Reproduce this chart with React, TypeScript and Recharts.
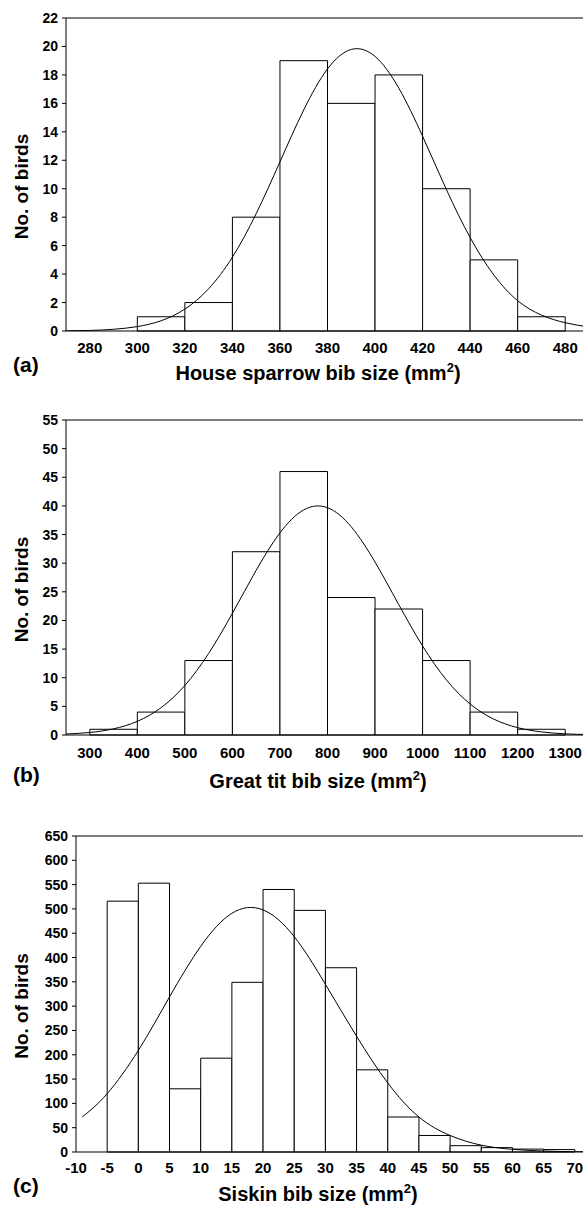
import React from 'react';
import { ComposedChart, XAxis, YAxis, Line, ReferenceArea } from 'recharts';

const FONT = "'Liberation Sans', Arial, Helvetica, sans-serif";

// ---------- Panel (a): House sparrow ----------
const aBinStarts = [300, 320, 340, 360, 380, 400, 420, 440, 460];
const aBinWidth = 20;
const aCounts = [1, 2, 8, 19, 16, 18, 10, 5, 1];
const aXTicks = [280, 300, 320, 340, 360, 380, 400, 420, 440, 460, 480];
const aYTicks = [0, 2, 4, 6, 8, 10, 12, 14, 16, 18, 20, 22];
const aCurveX = [270, 280, 290, 300, 310, 320, 330, 340, 350, 360, 370, 380, 390, 400, 410, 420, 430, 440, 450, 460, 470, 480, 490];
const aCurveY = [0.01, 0.04, 0.12, 0.31, 0.72, 1.54, 2.97, 5.19, 8.25, 11.89, 15.54, 18.42, 19.79, 19.3, 17.07, 13.69, 9.95, 6.57, 3.93, 2.13, 1.12, 0.58, 0.28];

// ---------- Panel (b): Great tit ----------
const bBinStarts = [300, 400, 500, 600, 700, 800, 900, 1000, 1100, 1200];
const bBinWidth = 100;
const bCounts = [1, 4, 13, 32, 46, 24, 22, 13, 4, 1];
const bXTicks = [300, 400, 500, 600, 700, 800, 900, 1000, 1100, 1200, 1300];
const bYTicks = [0, 5, 10, 15, 20, 25, 30, 35, 40, 45, 50, 55];
const bCurveX = [250, 300, 350, 400, 450, 500, 550, 600, 650, 700, 750, 800, 850, 900, 950, 1000, 1050, 1100, 1150, 1200, 1250, 1300, 1350];
const bCurveY = [0.17, 0.44, 1.08, 2.38, 4.77, 8.65, 14.24, 21.25, 28.76, 35.3, 39.3, 39.69, 36.35, 30.19, 22.75, 15.54, 9.63, 5.41, 2.76, 1.28, 0.54, 0.2, 0.07];

// ---------- Panel (c): Siskin ----------
const cBinStarts = [-5, 0, 5, 10, 15, 20, 25, 30, 35, 40, 45, 50, 55, 60, 65];
const cBinWidth = 5;
const cCounts = [516, 553, 130, 193, 349, 540, 497, 379, 169, 72, 34, 13, 9, 6, 5];
const cXTicks = [-10, -5, 0, 5, 10, 15, 20, 25, 30, 35, 40, 45, 50, 55, 60, 65, 70];
const cYTicks = [0, 50, 100, 150, 200, 250, 300, 350, 400, 450, 500, 550, 600, 650];
const cCurveX = [-9, -5, 0, 5, 10, 15, 20, 25, 30, 35, 40, 45, 50, 55, 60, 65, 70, 75];
const cCurveY = [72, 120, 209, 319, 423, 491, 498, 443, 345, 238, 142, 72, 34, 14, 5.5, 2, 0.6, 0.15];

type Layout = {
  top: number;
  width: number;
  height: number;
  marginTop: number;
  marginRight: number;
  yAxisWidth: number;
  bottomAxisHeight: number;
  tickGap: number;
  letterDy: number;
  titleDy: number;
  titleCx: number;
};

type PanelProps = {
  binStarts: number[];
  binWidth: number;
  counts: number[];
  xTicks: number[];
  yTicks: number[];
  curveX: number[];
  curveY: number[];
  xDomain: [number, number];
  yDomain: [number, number];
  title: string;
  letter: string;
  layout: Layout;
};

function HistPanel(p: PanelProps) {
  const L = p.layout;
  const bins = p.binStarts.map((s, i) => ({ x1: s, x2: s + p.binWidth, count: p.counts[i] }));
  const curve = p.curveX.map((x, i) => ({ x, y: p.curveY[i] }));

  const xLabel = (props: any) => {
    const vb = props.viewBox || props;
    const y0 = vb.y;
    return (
      <g>
        <text x={13} y={y0 + L.letterDy} fontFamily={FONT} fontWeight="bold" fontSize={21} fill="#000">
          {p.letter}
        </text>
        <text x={L.titleCx} y={y0 + L.titleDy} textAnchor="middle" fontFamily={FONT} fontWeight="bold" fontSize={20} fill="#000">
          {p.title}(mm<tspan dy={-8} fontSize={13}>2</tspan>
          <tspan dy={8}>)</tspan>
        </text>
      </g>
    );
  };

  const yLabel = (props: any) => {
    const vb = props.viewBox || props;
    const cy = vb.y + vb.height / 2 + 12;
    const cx = 28;
    return (
      <text
        x={cx}
        y={cy}
        transform={`rotate(-90, ${cx}, ${cy})`}
        textAnchor="middle"
        fontFamily={FONT}
        fontWeight="bold"
        fontSize={19}
        fill="#000"
      >
        No. of birds
      </text>
    );
  };

  return (
    <div style={{ position: 'absolute', left: 0, top: L.top }}>
      <ComposedChart
        width={L.width}
        height={L.height}
        margin={{ top: L.marginTop, right: L.marginRight, bottom: 0, left: 30 }}
      >
        <XAxis
          xAxisId="top"
          orientation="top"
          type="number"
          dataKey="x"
          domain={p.xDomain}
          allowDataOverflow
          ticks={p.xTicks}
          interval={0}
          height={10}
          tick={false}
          tickSize={3}
          axisLine={{ stroke: '#000', strokeWidth: 1 }}
          tickLine={{ stroke: '#000', strokeWidth: 1 }}
        />
        <XAxis
          xAxisId={0}
          type="number"
          dataKey="x"
          domain={p.xDomain}
          allowDataOverflow
          ticks={p.xTicks}
          interval={0}
          height={L.bottomAxisHeight}
          tickLine={false}
          tickSize={L.tickGap}
          tickMargin={0}
          axisLine={{ stroke: '#000', strokeWidth: 1 }}
          tick={{ fontSize: 15, fontWeight: 'bold', fill: '#000', fontFamily: FONT }}
          label={xLabel}
        />
        <YAxis
          yAxisId={0}
          type="number"
          domain={p.yDomain}
          allowDataOverflow
          ticks={p.yTicks}
          interval={0}
          width={L.yAxisWidth}
          tickSize={4}
          tickMargin={4}
          axisLine={{ stroke: '#000', strokeWidth: 1 }}
          tickLine={{ stroke: '#000', strokeWidth: 1 }}
          tick={{ fontSize: 14, fontWeight: 'bold', fill: '#000', fontFamily: FONT }}
          label={yLabel}
        />
        {bins.map((b) => (
          <ReferenceArea
            key={b.x1}
            xAxisId={0}
            yAxisId={0}
            x1={b.x1}
            x2={b.x2}
            y1={0}
            y2={b.count}
            fill="#ffffff"
            fillOpacity={1}
            stroke="#000"
            strokeWidth={1}
          />
        ))}
        <Line
          data={curve}
          xAxisId={0}
          yAxisId={0}
          dataKey="y"
          type="natural"
          stroke="#000"
          strokeWidth={1}
          dot={false}
          activeDot={false}
          isAnimationActive={false}
        />
      </ComposedChart>
    </div>
  );
}

export default function App() {
  return (
    <div
      style={{
        position: 'absolute',
        left: 0,
        top: 0,
        width: 583,
        height: 1206,
        overflow: 'hidden',
        background: '#fff',
      }}
    >
      <HistPanel
        binStarts={aBinStarts}
        binWidth={aBinWidth}
        counts={aCounts}
        xTicks={aXTicks}
        yTicks={aYTicks}
        curveX={aCurveX}
        curveY={aCurveY}
        xDomain={[270, 490]}
        yDomain={[0, 22]}
        title="House sparrow bib size "
        letter="(a)"
        layout={{
          top: 0,
          width: 600,
          height: 400,
          marginTop: 8,
          marginRight: 11,
          yAxisWidth: 36,
          bottomAxisHeight: 69,
          tickGap: 11,
          letterDy: 41,
          titleDy: 49,
          titleCx: 318,
        }}
      />
      <HistPanel
        binStarts={bBinStarts}
        binWidth={bBinWidth}
        counts={bCounts}
        xTicks={bXTicks}
        yTicks={bYTicks}
        curveX={bCurveX}
        curveY={bCurveY}
        xDomain={[250, 1350]}
        yDomain={[0, 55]}
        title="Great tit bib size "
        letter="(b)"
        layout={{
          top: 400,
          width: 600,
          height: 400,
          marginTop: 10,
          marginRight: 11,
          yAxisWidth: 36,
          bottomAxisHeight: 65,
          tickGap: 12,
          letterDy: 47,
          titleDy: 53,
          titleCx: 318,
        }}
      />
      <HistPanel
        binStarts={cBinStarts}
        binWidth={cBinWidth}
        counts={cCounts}
        xTicks={cXTicks}
        yTicks={cYTicks}
        curveX={cCurveX}
        curveY={cCurveY}
        xDomain={[-10, 75]}
        yDomain={[0, 650]}
        title="Siskin bib size "
        letter="(c)"
        layout={{
          top: 800,
          width: 620,
          height: 406,
          marginTop: 26,
          marginRight: 14,
          yAxisWidth: 46,
          bottomAxisHeight: 54,
          tickGap: 10,
          letterDy: 41,
          titleDy: 49,
          titleCx: 318,
        }}
      />
    </div>
  );
}
